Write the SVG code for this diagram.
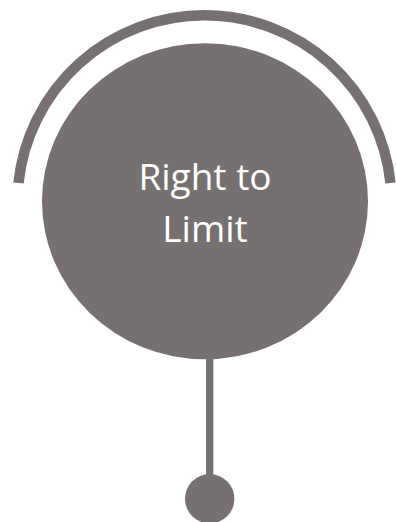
<svg xmlns="http://www.w3.org/2000/svg" width="396" height="522" viewBox="0 0 396 522">
<style>
.shape{fill:#767170}
.line{fill:none;stroke:#767170}
.label{font-family:"Open Sans","Noto Sans",sans-serif;font-size:37px;fill:#ffffff;text-anchor:middle}
</style>
<rect width="396" height="522" fill="#ffffff"/>
<g id="connectors">
<path class="line" d="M18.5 183 A187 187 0 0 1 390.5 183" stroke-width="10.5"/>
<line class="line" x1="209.7" y1="355" x2="209.7" y2="478" stroke-width="7.3"/>
</g>
<g id="main-node">
<ellipse class="shape" cx="205" cy="201.3" rx="163" ry="158"/>
<text class="label" x="205" y="190">Right to</text>
<text class="label" x="205" y="242">Limit</text>
</g>
<g id="end-node">
<circle class="shape" cx="209.7" cy="498.7" r="24.7"/>
</g>
</svg>
